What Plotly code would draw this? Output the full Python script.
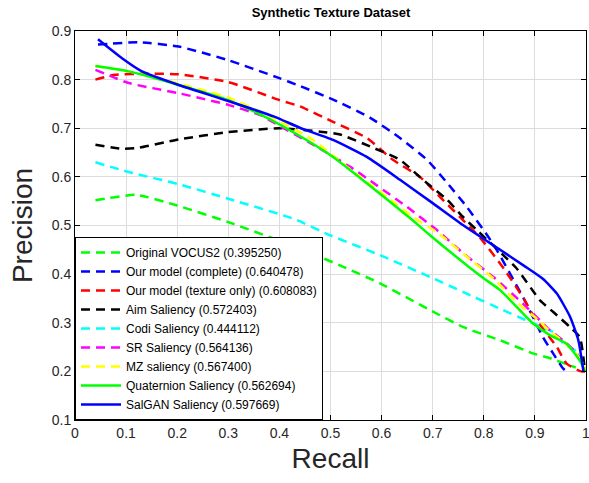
import plotly.graph_objects as go

# recall / precision
vocus2_r = [0.04, 0.12, 0.2, 0.3, 0.43, 0.525, 0.597, 0.695, 0.76, 0.832, 0.896, 0.93, 0.969, 0.98]
vocus2_p = [0.552, 0.563, 0.541, 0.507, 0.457, 0.415, 0.381, 0.326, 0.291, 0.264, 0.237, 0.227, 0.212, 0.208]

complete_r = [0.045, 0.125, 0.203, 0.3, 0.4, 0.44, 0.505, 0.577, 0.636, 0.689, 0.728, 0.767, 0.808, 0.828, 0.879, 0.916, 0.935, 0.955, 0.962]
complete_p = [0.872, 0.877, 0.868, 0.84, 0.803, 0.787, 0.759, 0.722, 0.68, 0.635, 0.588, 0.538, 0.478, 0.445, 0.348, 0.27, 0.238, 0.206, 0.2]

texture_r = [0.04, 0.078, 0.137, 0.203, 0.3, 0.4, 0.44, 0.505, 0.571, 0.622, 0.675, 0.714, 0.753, 0.795, 0.84, 0.879, 0.898, 0.943, 0.962, 0.99, 1.0]
texture_p = [0.80, 0.81, 0.812, 0.811, 0.795, 0.758, 0.745, 0.713, 0.68, 0.635, 0.60, 0.559, 0.518, 0.472, 0.41, 0.348, 0.313, 0.25, 0.216, 0.2, 0.2]

aim_r = [0.04, 0.092, 0.125, 0.203, 0.3, 0.4, 0.48, 0.519, 0.583, 0.636, 0.681, 0.728, 0.759, 0.789, 0.864, 0.91, 0.936, 0.969, 0.988, 0.998]
aim_p = [0.666, 0.658, 0.66, 0.677, 0.692, 0.70, 0.693, 0.687, 0.66, 0.635, 0.594, 0.553, 0.518, 0.488, 0.412, 0.346, 0.322, 0.291, 0.27, 0.2]

codi_r = [0.04, 0.105, 0.203, 0.3, 0.43, 0.499, 0.597, 0.695, 0.76, 0.838, 0.887, 0.937, 0.955, 0.982, 1.0]
codi_p = [0.63, 0.61, 0.585, 0.555, 0.513, 0.48, 0.439, 0.394, 0.363, 0.326, 0.303, 0.28, 0.258, 0.24, 0.2]

sr_r = [0.04, 0.105, 0.203, 0.3, 0.365, 0.4, 0.46, 0.538, 0.59, 0.65, 0.711, 0.762, 0.82, 0.877, 0.904, 0.929, 0.955, 0.982, 1.0]
sr_p = [0.82, 0.793, 0.772, 0.748, 0.726, 0.705, 0.67, 0.621, 0.583, 0.538, 0.488, 0.441, 0.393, 0.339, 0.311, 0.285, 0.264, 0.237, 0.2]

mz_r = [0.04, 0.105, 0.203, 0.3, 0.38, 0.466, 0.532, 0.61, 0.661, 0.711, 0.762, 0.82, 0.865, 0.904, 0.929, 0.955, 0.982, 1.0]
mz_p = [0.828, 0.817, 0.792, 0.763, 0.726, 0.676, 0.621, 0.559, 0.518, 0.484, 0.44, 0.39, 0.342, 0.308, 0.283, 0.262, 0.235, 0.2]

quat_r = [0.04, 0.105, 0.203, 0.3, 0.379, 0.44, 0.505, 0.571, 0.656, 0.697, 0.795, 0.832, 0.896, 0.93, 0.962, 0.988, 0.998]
quat_p = [0.828, 0.817, 0.789, 0.758, 0.72, 0.684, 0.641, 0.587, 0.515, 0.478, 0.395, 0.367, 0.299, 0.274, 0.257, 0.222, 0.2]

salgan_r = [0.045, 0.092, 0.131, 0.203, 0.3, 0.39, 0.44, 0.505, 0.571, 0.636, 0.70, 0.762, 0.832, 0.879, 0.916, 0.943, 0.969, 0.985, 0.995]
salgan_p = [0.883, 0.844, 0.817, 0.789, 0.756, 0.724, 0.701, 0.676, 0.641, 0.594, 0.546, 0.499, 0.45, 0.417, 0.39, 0.36, 0.312, 0.264, 0.2]

series = [
    ("Original VOCUS2 (0.395250)", vocus2_r, vocus2_p, "#00ff00", "9px,6px"),
    ("Our model (complete) (0.640478)", complete_r, complete_p, "#0000ff", "9px,6px"),
    ("Our model (texture only) (0.608083)", texture_r, texture_p, "#ff0000", "9px,6px"),
    ("Aim Saliency (0.572403)", aim_r, aim_p, "#000000", "9px,6px"),
    ("Codi Saliency (0.444112)", codi_r, codi_p, "#00ffff", "9px,6px"),
    ("SR Saliency (0.564136)", sr_r, sr_p, "#ff00ff", "9px,6px"),
    ("MZ saliency (0.567400)", mz_r, mz_p, "#ffff00", "9px,6px"),
    ("Quaternion Saliency (0.562694)", quat_r, quat_p, "#00ff00", "solid"),
    ("SalGAN Saliency (0.597669)", salgan_r, salgan_p, "#0000ff", "solid"),
]

fig = go.Figure()
for name, r, p, color, dash in series:
    fig.add_trace(go.Scatter(x=r, y=p, name=name, mode="lines",
                             line=dict(color=color, width=2.5, dash=dash, shape="spline", smoothing=0.5)))

axis_style = dict(showline=True, linecolor="black", linewidth=1, mirror="allticks",
                  ticks="inside", ticklen=5, tickcolor="black",
                  showgrid=True, gridcolor="#dcdcdc", gridwidth=1, zeroline=False,
                  ticklabeloverflow="allow",
                  tickfont=dict(size=14, color="#262626"))

fig.update_layout(
    width=589, height=483,
    margin=dict(l=75, r=3, t=31, b=63),
    paper_bgcolor="white", plot_bgcolor="white",
    font=dict(family="Liberation Sans, Arial, sans-serif", color="#262626"),
    title=dict(text="<b>Synthetic Texture Dataset</b>", x=0.562, xanchor="center",
               y=0.975, yanchor="middle", font=dict(size=13, color="black")),
    xaxis=dict(range=[0, 1], dtick=0.1, automargin=False,
               title=dict(text="Recall", font=dict(size=28), standoff=8), **axis_style),
    yaxis=dict(range=[0.1, 0.9], dtick=0.1, title=dict(text="Precision", font=dict(size=28), standoff=10), **axis_style),
    legend=dict(x=0, y=0, xanchor="left", yanchor="bottom", bgcolor="white",
                bordercolor="black", borderwidth=1, font=dict(size=12, color="black"),
                tracegroupgap=0, itemwidth=40),
)

fig.write_html("out.html", config={"displayModeBar": False},
               post_script="document.body.style.margin='0';")
